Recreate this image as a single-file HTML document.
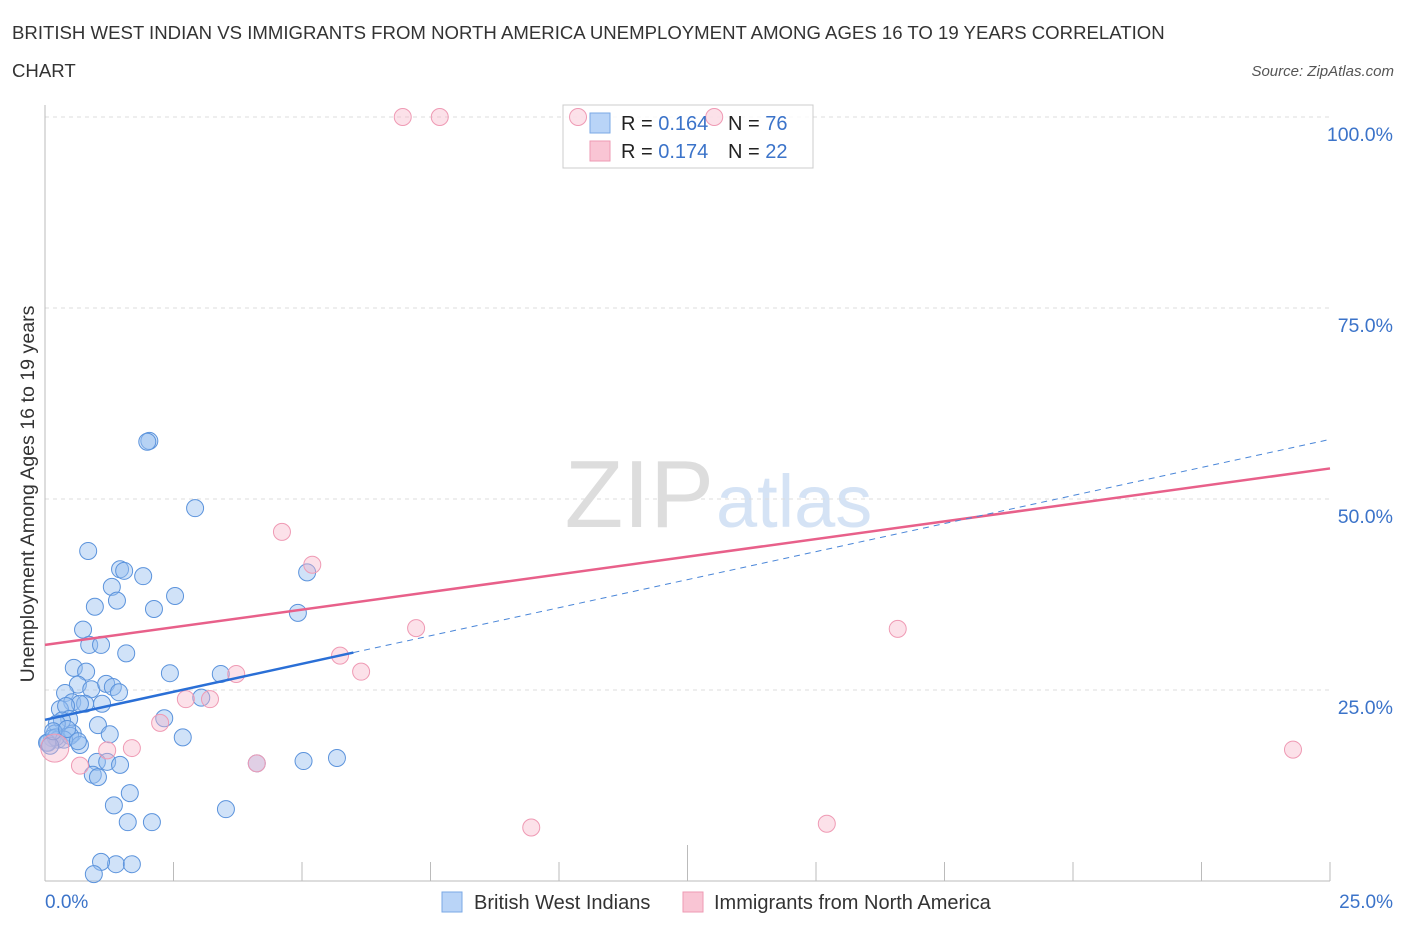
<!DOCTYPE html>
<html><head><meta charset="utf-8"><style>
body{margin:0;background:#fff;font-family:"Liberation Sans",sans-serif;}
svg text{font-family:"Liberation Sans",sans-serif;}
</style></head><body>
<svg id="chart" width="1406" height="930">
<text x="12" y="39" font-size="18.6" fill="#333">BRITISH WEST INDIAN VS IMMIGRANTS FROM NORTH AMERICA UNEMPLOYMENT AMONG AGES 16 TO 19 YEARS CORRELATION</text>
<text x="12" y="77" font-size="18.6" fill="#333">CHART</text>
<text x="1394" y="76" font-size="15" fill="#555" font-style="italic" text-anchor="end">Source: ZipAtlas.com</text>
<text x="714" y="527" font-size="96" fill="#ddd" font-family="Liberation Serif" text-anchor="end">ZIP</text>
<text x="716" y="527" font-size="74" fill="#d5e3f5">atlas</text>
<g id="grid"></g>
<g id="axes"></g>
<g>
<rect x="563" y="105" width="250" height="63" fill="rgba(255,255,255,0.85)" stroke="#ccc"/>
</g>
<g id="pts"></g>
<g id="lines"></g>
<text transform="translate(34,494) rotate(-90)" font-size="19.6" fill="#333" text-anchor="middle">Unemployment Among Ages 16 to 19 years</text>
<text x="45" y="908" font-size="19" fill="#3b73c9">0.0%</text>
<text x="1393" y="908" font-size="19" fill="#3b73c9" text-anchor="end">25.0%</text>
<g>
<rect x="590" y="113" width="20" height="20" fill="#b9d4f7" stroke="#7aa8e6"/>
<rect x="590" y="141" width="20" height="20" fill="#f9c5d4" stroke="#ee9ab3"/>
<text x="621" y="130" font-size="20" fill="#222">R = <tspan fill="#3b73c9">0.164</tspan></text>
<text x="728" y="130" font-size="20" fill="#222">N = <tspan fill="#3b73c9">76</tspan></text>
<text x="621" y="158" font-size="20" fill="#222">R = <tspan fill="#3b73c9">0.174</tspan></text>
<text x="728" y="158" font-size="20" fill="#222">N = <tspan fill="#3b73c9">22</tspan></text>
</g>
<g>
<rect x="442" y="892" width="20" height="20" fill="#b9d4f7" stroke="#7aa8e6"/>
<text x="474" y="909" font-size="20" fill="#333">British West Indians</text>
<rect x="683" y="892" width="20" height="20" fill="#f9c5d4" stroke="#ee9ab3"/>
<text x="714" y="909" font-size="20" fill="#333">Immigrants from North America</text>
</g>
</svg>
<script>
const blueX=[2.03,1.99,2.92,0.84,1.46,1.54,1.91,1.30,5.10,2.53,0.97,1.40,2.12,4.92,0.74,0.86,1.09,1.58,2.43,3.42,0.56,0.80,0.64,0.90,1.19,1.32,1.44,0.39,0.53,0.78,1.11,0.68,0.29,0.41,0.47,0.33,1.03,2.32,3.04,0.23,0.19,0.54,0.14,0.06,0.25,0.49,0.68,1.26,2.68,0.21,0.37,1.01,1.21,1.46,0.93,1.03,1.65,1.34,3.52,1.61,2.08,1.38,1.09,1.69,0.95,0.04,0.10,0.16,0.43,5.03,5.68,4.12,0.64];
const blueY=[57.6,57.5,48.8,43.2,40.8,40.6,39.9,38.5,40.4,37.3,35.9,36.7,35.6,35.1,32.9,30.9,30.9,29.8,27.2,27.1,27.9,27.4,25.7,25.1,25.8,25.4,24.7,24.6,23.4,23.2,23.2,23.2,22.5,22.9,21.2,21.0,20.4,21.3,24.0,20.6,19.3,19.3,18.7,18.1,18.5,19.0,17.8,19.2,18.8,18.8,18.5,15.6,15.6,15.2,13.9,13.6,11.5,9.9,9.4,7.7,7.7,2.2,2.5,2.2,0.9,18.1,17.7,19.6,19.9,15.7,16.1,15.4,18.3];
const pinkX=[6.96,7.68,10.37,13.02,4.61,5.20,7.22,16.59,5.74,3.72,6.15,2.74,3.21,2.24,1.69,1.21,0.68,4.12,9.46,15.21,24.28,0.19];
const pinkY=[100,100,100,100,45.7,41.4,33.1,33.0,29.5,27.1,27.4,23.8,23.8,20.7,17.4,17.1,15.1,15.4,7.0,7.5,17.2,17.4];
const yTicks=[25,50,75,100];
const yTickLabels=["25.0%","50.0%","75.0%","100.0%"];
const xTicks=[0,2.5,5,7.5,10,12.5,15,17.5,20,22.5,25];
const blueTrend=[21.1,29.9]; // at x=0 and x=6
const blueTrendEnd=57.8; // at x=25
const pinkTrend=[30.9,54.0]; // at x=0 and x=25
const NS="http://www.w3.org/2000/svg";
const X=v=>45+v/25*1285, Y=v=>881-v/100*764;
function mk(tag,attrs,parent){const e=document.createElementNS(NS,tag);for(const k in attrs)e.setAttribute(k,attrs[k]);document.getElementById(parent).appendChild(e);return e;}
yTicks.forEach((t,i)=>{
 const l=mk('line',{x1:45,x2:1330,y1:Y(t),y2:Y(t),stroke:'#ddd','stroke-dasharray':'4,4'},'grid');
 
 
 const tx=mk('text',{x:1393,y:Y(t)+24,'font-size':19.5,fill:'#3b73c9','text-anchor':'end'},'grid');
 tx.textContent=yTickLabels[i];
 
 
});
const ax=mk('line',{x1:45,x2:45,y1:105,y2:881,stroke:'#bbb'},'axes');


const bx=mk('line',{x1:45,x2:1330,y1:881,y2:881,stroke:'#bbb'},'axes');


xTicks.forEach((t,i)=>{
 const l=mk('line',{x1:X(t),x2:X(t),y1:i==5?845:862,y2:881,stroke:'#bbb'},'axes');
 
 
});
blueX.forEach((v,i)=>{
 const c=mk('circle',{cx:X(v),cy:Y(blueY[i]),r:8.5,fill:'rgba(150,190,240,0.45)',stroke:'#5b93dc','stroke-width':1},'pts');
 
 
});
pinkX.forEach((v,i)=>{
 const c=mk('circle',{cx:X(v),cy:Y(pinkY[i]),r:i==21?14:8.5,fill:'rgba(248,180,200,0.4)',stroke:'#ef9ab4','stroke-width':1},'pts');
 
 
});
const pl=mk('line',{x1:X(0),y1:Y(pinkTrend[0]),x2:X(25),y2:Y(pinkTrend[1]),stroke:'#e8608a','stroke-width':2.5},'lines');


const bd=mk('line',{x1:X(6),y1:Y(blueTrend[1]),x2:X(25),y2:Y(blueTrendEnd),stroke:'#4a86d8','stroke-width':1,'stroke-dasharray':'6,5'},'lines');


const bl=mk('line',{x1:X(0),y1:Y(blueTrend[0]),x2:X(6),y2:Y(blueTrend[1]),stroke:'#2a6fd6','stroke-width':2.5},'lines');


</script>
</body></html>
